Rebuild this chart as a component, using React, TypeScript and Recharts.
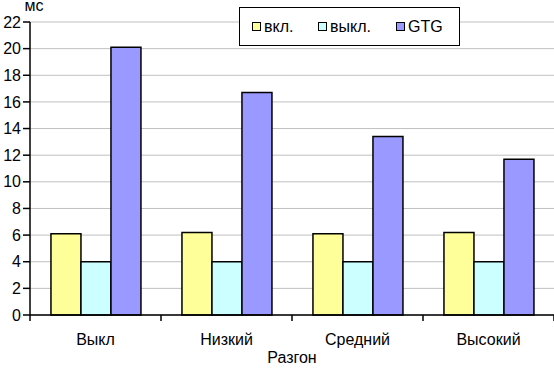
import * as React from "react";
import {
  BarChart,
  Bar,
  XAxis,
  YAxis,
  CartesianGrid,
  Legend,
  Label,
} from "recharts";

// ─── Data ─────────────────────────────────────────────────────────────────────

const categories = ["Выкл", "Низкий", "Средний", "Высокий"];
const vklValues = [6.1, 6.2, 6.1, 6.2];
const vyklValues = [4.0, 4.0, 4.0, 4.0];
const gtgValues = [20.1, 16.7, 13.4, 11.7];
const yTicks = [0, 2, 4, 6, 8, 10, 12, 14, 16, 18, 20, 22];

const seriesKeys = ["vkl", "vykl", "gtg"];
const seriesNames = ["вкл.", "выкл.", "GTG"];
const xTitle = "Разгон";
const yTitle = "мс";

// ─── Style ────────────────────────────────────────────────────────────────────

const FONT = "'Liberation Sans', Arial, sans-serif";
const FONT_SIZE = 16;
const YELLOW = "#FFFF99";
const CYAN = "#CCFFFF";
const BLUE = "#9999FF";
const GRID = "#C0C0C0";
const LEGEND_ITEM_WIDTHS = [66, 78, 50];

const data = categories.map((name, i) => ({
  name,
  vkl: vklValues[i],
  vykl: vyklValues[i],
  gtg: gtgValues[i],
}));

// Excel-style category tick: marks between categories, label in the middle
function CategoryTick(props: any) {
  const { x, y, payload, index, visibleTicksCount } = props;
  const half = payload?.offset ?? 0;
  const axisY = y - 8;
  return (
    <g>
      <line x1={x - half} x2={x - half} y1={axisY} y2={axisY + 6} stroke="#000" strokeWidth={1.5} />
      {index === visibleTicksCount - 1 && (
        <line x1={x + half} x2={x + half} y1={axisY} y2={axisY + 6} stroke="#000" strokeWidth={1.5} />
      )}
      <text x={x} y={y + 22} textAnchor="middle" fill="#000" fontSize={FONT_SIZE} fontFamily={FONT}>
        {payload.value}
      </text>
    </g>
  );
}

function LegendBox({ payload }: any) {
  // keep series order (recharts sorts legend items by name)
  const items = [...(payload ?? [])].sort(
    (a: any, b: any) => seriesKeys.indexOf(a.dataKey) - seriesKeys.indexOf(b.dataKey)
  );
  return (
    <div
      style={{
        boxSizing: "border-box",
        width: "100%",
        height: "100%",
        border: "1.5px solid #000",
        background: "#fff",
        display: "flex",
        alignItems: "center",
        paddingLeft: 12,
        fontFamily: FONT,
        fontSize: FONT_SIZE,
        color: "#000",
      }}
    >
      {items.map((entry: any, i: number) => (
        <div key={i} style={{ display: "flex", alignItems: "center", width: LEGEND_ITEM_WIDTHS[i] }}>
          <span
            style={{
              display: "inline-block",
              width: 7,
              height: 7,
              border: "1px solid #000",
              background: entry.color,
              marginRight: 3,
            }}
          />
          <span>{entry.value}</span>
        </div>
      ))}
    </div>
  );
}

export default function App() {
  return (
    <div style={{ position: "absolute", left: 0, top: 0, width: 554, height: 371, background: "#fff" }}>
      <BarChart
        width={554}
        height={371}
        data={data}
        margin={{ top: 22, right: 0, bottom: 0, left: 0 }}
        barCategoryGap="16%"
        barGap={0}
      >
        <CartesianGrid horizontal vertical={false} stroke={GRID} strokeWidth={1} />
        <XAxis
          dataKey="name"
          height={56}
          axisLine={{ stroke: "#000", strokeWidth: 1.5 }}
          tickLine={false}
          tickSize={6}
          tick={<CategoryTick />}
          interval={0}
        >
          <Label
            content={({ viewBox }: any) => (
              <text
                x={viewBox.x + viewBox.width / 2}
                y={viewBox.y + 48}
                textAnchor="middle"
                fill="#000"
                fontSize={FONT_SIZE}
                fontFamily={FONT}
              >
                {xTitle}
              </text>
            )}
          />
        </XAxis>
        <YAxis
          width={30}
          domain={[0, 22]}
          ticks={yTicks}
          interval={0}
          axisLine={{ stroke: "#000", strokeWidth: 1.5 }}
          tickLine={{ stroke: "#000", strokeWidth: 1.5 }}
          tickSize={7}
          tick={{ fill: "#000", fontSize: FONT_SIZE, fontFamily: FONT }}
        >
          <Label
            content={({ viewBox }: any) => (
              <text
                x={viewBox.x + viewBox.width + 4}
                y={viewBox.y - 11}
                textAnchor="middle"
                fill="#000"
                fontSize={FONT_SIZE}
                fontFamily={FONT}
              >
                {yTitle}
              </text>
            )}
          />
        </YAxis>
        <Legend
          verticalAlign="middle"
          layout="horizontal"
          content={<LegendBox />}
          wrapperStyle={{ top: 7, left: 239, width: 221, height: 39 }}
        />
        <Bar dataKey="vkl" name={seriesNames[0]} fill={YELLOW} stroke="#000" strokeWidth={1.5} isAnimationActive={false} />
        <Bar dataKey="vykl" name={seriesNames[1]} fill={CYAN} stroke="#000" strokeWidth={1.5} isAnimationActive={false} />
        <Bar dataKey="gtg" name={seriesNames[2]} fill={BLUE} stroke="#000" strokeWidth={1.5} isAnimationActive={false} />
      </BarChart>
    </div>
  );
}
